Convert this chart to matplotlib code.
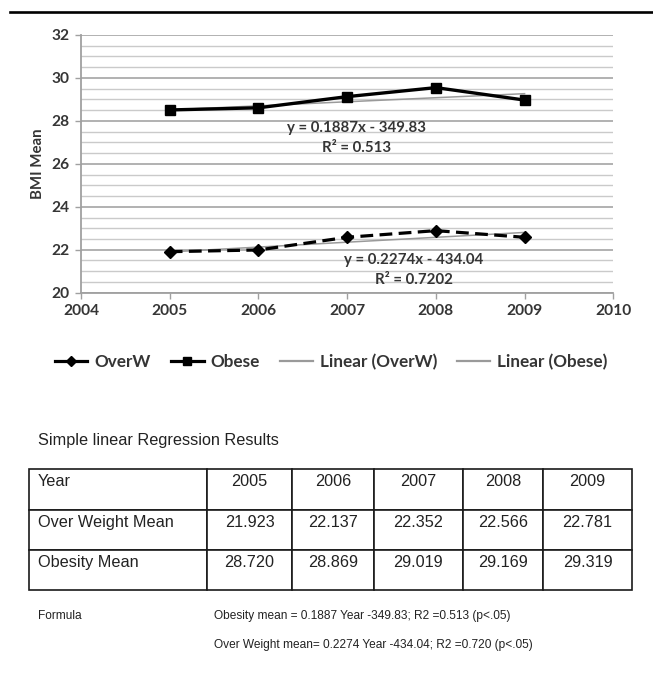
import matplotlib
matplotlib.use("Agg")
import matplotlib.pyplot as plt
from matplotlib.lines import Line2D
from matplotlib.ticker import MultipleLocator
import numpy as np

# ---- data ----
years = [2005, 2006, 2007, 2008, 2009]
overw = [21.91, 21.99, 22.58, 22.89, 22.58]
obese = [28.51, 28.61, 29.13, 29.55, 28.97]
overw_slope, overw_icpt = 0.2274, -434.04
obese_slope, obese_icpt = 0.1887, -349.83
overw_eq = "y = 0.2274x - 434.04"
overw_r2 = "R² = 0.7202"
obese_eq = "y = 0.1887x - 349.83"
obese_r2 = "R² = 0.513"
series_labels = ["OverW", "Obese", "Linear (OverW)", "Linear (Obese)"]

table_title = "Simple linear Regression Results"
table_header = ["Year", "2005", "2006", "2007", "2008", "2009"]
table_overw = ["Over Weight Mean", "21.923", "22.137", "22.352", "22.566", "22.781"]
table_obese = ["Obesity Mean", "28.720", "28.869", "29.019", "29.169", "29.319"]
formula_label = "Formula"
formula_lines = ["Obesity mean = 0.1887 Year -349.83; R2 =0.513 (p<.05)",
                 "Over Weight mean= 0.2274 Year -434.04; R2 =0.720 (p<.05)"]

W, H = 653, 680
fig = plt.figure(figsize=(W / 100, H / 100), dpi=100)

def fx(px):
    return px / W

def fy(py):
    return 1 - py / H

# top rule
fig.add_artist(Line2D([fx(10), 1.0], [fy(11.7), fy(11.7)], color="black", lw=1.9))

# ---- chart ----
ax = fig.add_axes([fx(81), fy(292.7), fx(613.3) - fx(81), fy(35) - fy(292.7)])
chart_font = "Lato"
txtc = "#353535"

ax.set_xlim(2004, 2010)
ax.set_ylim(20, 32)
ax.yaxis.set_major_locator(MultipleLocator(2))
ax.yaxis.set_minor_locator(MultipleLocator(0.5))
ax.xaxis.set_major_locator(MultipleLocator(1))
ax.grid(True, axis="y", which="major", color="#ababab", lw=1.3, zorder=0)
ax.grid(True, axis="y", which="minor", color="#cacaca", lw=1.0, zorder=0)
ax.set_axisbelow(True)
for s in ["top", "right"]:
    ax.spines[s].set_visible(False)
for s in ["left", "bottom"]:
    ax.spines[s].set_color("#a0a0a0")
    ax.spines[s].set_linewidth(1.3)
ax.tick_params(axis="both", which="major", direction="out", length=4, width=1.0,
               color="#a0a0a0", labelcolor=txtc, pad=4)
ax.tick_params(axis="y", which="minor", length=0)
for lab in ax.get_xticklabels() + ax.get_yticklabels():
    lab.set_fontfamily(chart_font)
    lab.set_fontweight("bold")
    lab.set_fontsize(11.2)
ax.set_ylabel("BMI Mean", fontfamily=chart_font, fontweight="bold", fontsize=10.8,
              color=txtc, labelpad=5)

yrs = np.array(years, dtype=float)
ax.plot(yrs, overw_slope * yrs + overw_icpt, color="#9a9a9a", lw=1.1, zorder=2)
ax.plot(yrs, obese_slope * yrs + obese_icpt, color="#9a9a9a", lw=1.1, zorder=2)
ax.plot(years, overw, color="black", lw=2.3, ls=(0, (4, 2)), marker="D",
        markersize=6.5, zorder=3)
ax.plot(years, obese, color="black", lw=2.4, marker="s", markersize=6.8, zorder=3)

ann = dict(fontfamily=chart_font, fontweight="bold", fontsize=10.8, color=txtc,
           ha="center", va="center")
ax.text(2007.11, 27.65, obese_eq, **ann)
ax.text(2007.11, 26.72, obese_r2, **ann)
ax.text(2007.75, 21.52, overw_eq, **ann)
ax.text(2007.75, 20.59, overw_r2, **ann)

handles = [
    Line2D([], [], color="black", lw=2.3, marker="D", markersize=5.5),
    Line2D([], [], color="black", lw=2.3, marker="s", markersize=5.5),
    Line2D([], [], color="#9a9a9a", lw=1.6),
    Line2D([], [], color="#9a9a9a", lw=1.6),
]
leg = fig.legend(handles, series_labels, loc="center", ncol=4, frameon=False,
                 bbox_to_anchor=(fx(331), fy(361.7)), handlelength=1.9,
                 handletextpad=0.4, columnspacing=1.2,
                 prop=dict(family=chart_font, weight="bold", size=12.3))
for t in leg.get_texts():
    t.set_color(txtc)

# ---- table ----
tab_font = "Liberation Sans"
fig.text(fx(37.5), fy(440), table_title, fontfamily=tab_font, fontsize=11.7,
         color="#222222", va="center", ha="left")

tx0, tx1, ty0, ty1 = 29.3, 631.7, 469.3, 590
tax = fig.add_axes([fx(tx0), fy(ty1), fx(tx1) - fx(tx0), fy(ty0) - fy(ty1)])
tax.axis("off")
col_edges = [29.3, 206.7, 292.4, 373.6, 462.5, 543.3, 631.7]
col_w = [(col_edges[i + 1] - col_edges[i]) / (tx1 - tx0) for i in range(6)]
cells = [table_header, table_overw, table_obese]
tbl = tax.table(cellText=cells, colWidths=col_w, bbox=[0, 0, 1, 1],
                cellLoc="center")
tbl.auto_set_font_size(False)
for (r, c), cell in tbl.get_celld().items():
    cell.set_linewidth(1.2)
    cell.set_edgecolor("#1a1a1a")
    t = cell.get_text()
    t.set_fontfamily(tab_font)
    t.set_fontsize(11.7)
    t.set_color("#222222")
    t.set_va("bottom")
    if c == 0:
        t.set_ha("left")
        cell.PAD = 0.05

fs_small = 8.55
fig.text(fx(38), fy(616), formula_label, fontfamily=tab_font, fontsize=fs_small,
         color="#222222", va="center", ha="left")
fig.text(fx(214.5), fy(616), formula_lines[0], fontfamily=tab_font, fontsize=fs_small,
         color="#222222", va="center", ha="left")
fig.text(fx(214.5), fy(645), formula_lines[1], fontfamily=tab_font, fontsize=fs_small,
         color="#222222", va="center", ha="left")

fig.savefig("out.png", dpi=100)
